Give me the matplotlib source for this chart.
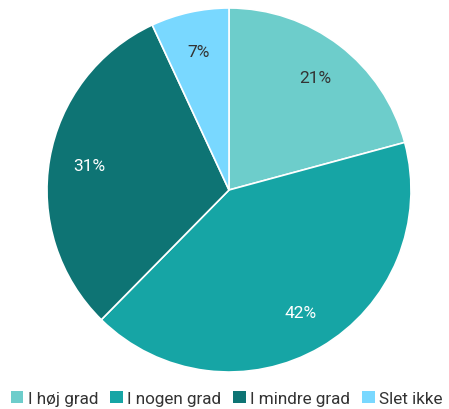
import matplotlib
matplotlib.use("Agg")
import matplotlib.pyplot as plt
from matplotlib.patches import Patch
import numpy as np

plt.rcParams['font.family'] = ['Roboto', 'DejaVu Sans']

categories = ["I høj grad", "I nogen grad", "I mindre grad", "Slet ikke"]
values = [21, 42, 31, 7]
colors = ["#6dcdcb", "#16a5a5", "#0e7474", "#79d8ff"]
text_colors = ["#333333", "white", "white", "#333333"]

W, H = 449, 410
fig = plt.figure(figsize=(W / 100, H / 100), dpi=100)
cx, cy, r = 229, 191, 182
ax = fig.add_axes([(cx - r) / W, (H - cy - r) / H, 2 * r / W, 2 * r / H])
wedges, _ = ax.pie(values, colors=colors, startangle=90, counterclock=False,
                   wedgeprops=dict(edgecolor="white", linewidth=1.2), radius=1)
for v, w, tc in zip(values, wedges, text_colors):
    mid = np.deg2rad((w.theta1 + w.theta2) / 2)
    ax.text(0.78 * np.cos(mid), 0.78 * np.sin(mid), f"{v}%", ha="center", va="center",
            color=tc, fontsize=12.5)
ax.set_xlim(-1, 1)
ax.set_ylim(-1, 1)
ax.set_aspect("equal")
ax.axis("off")

handles = [Patch(facecolor=c, edgecolor="none") for c in colors]
fig.legend(handles, categories, loc="lower center", bbox_to_anchor=(0.505, -0.03), ncol=4,
           frameon=False, fontsize=12.3, handlelength=0.75, handleheight=0.75,
           handletextpad=0.25, columnspacing=0.7, labelcolor="#333333")
fig.savefig("out.png", dpi=100)
